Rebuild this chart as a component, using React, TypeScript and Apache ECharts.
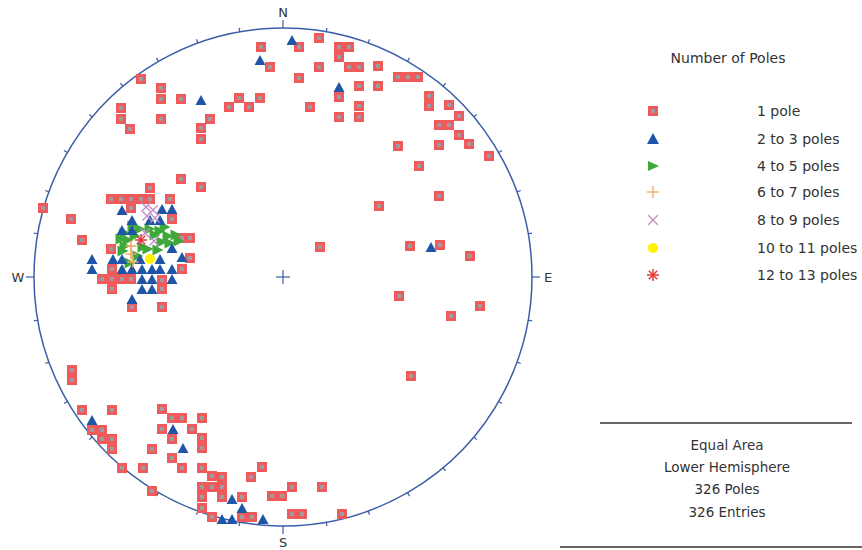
import React, { useEffect, useRef } from 'react';
import * as echarts from 'echarts';

// Projection units: net radius = R, x toward East, y toward North
const R = 249;

const onePole: number[][] = [
  // north / north-east
  [36, 239], [16, 230], [56, 230], [66, 230], [56, 220], [36, 210], [66, 210], [76, 210], [95, 211],
  [16, 199], [115, 200], [125, 200], [135, 200], [56, 180], [76, 191], [95, 191], [27, 170], [76, 171],
  [76, 160], [56, 160], [146, 181], [146, 171], [166, 172], [176, 161], [156, 152], [166, 152], [176, 142],
  [186, 133], [115, 131], [156, 132], [206, 121], [136, 111],
  // east
  [156, 81], [96, 71], [37, 30], [127, 31], [157, 32], [187, 21], [116, -19], [197, -29], [168, -39], [128, -99],
  // north-west
  [-22, 230], [-13, 210], [-142, 198], [-122, 189], [-122, 178], [-102, 178], [-162, 169], [-162, 158],
  [-153, 148], [-122, 158], [-73, 158], [-82, 149], [-82, 138], [-54, 170], [-44, 179], [-34, 170], [-23, 179],
  // west cluster
  [-240, 69], [-102, 98], [-82, 90], [-133, 89], [-172, 78], [-162, 78], [-152, 78], [-142, 78], [-133, 78],
  [-113, 78], [-152, 69], [-212, 58], [-111, 58], [-101, 39], [-93, 39], [-201, 37], [-172, 28], [-93, 19],
  [-101, 8], [-171, 8], [-181, -2], [-171, -2], [-161, -2], [-152, -2], [-121, -3], [-171, -12], [-121, -12],
  [-151, -30], [-121, -30],
  // south-west
  [-211, -93], [-211, -103], [-201, -133], [-171, -133], [-191, -153], [-181, -153], [-181, -162], [-171, -162],
  [-171, -172], [-121, -132], [-111, -141], [-101, -141], [-81, -141], [-121, -152], [-111, -162], [-91, -152],
  [-81, -161], [-81, -171], [-131, -172], [-111, -181], [-161, -191], [-140, -191], [-101, -191], [-81, -191],
  [-71, -199], [-131, -214],
  // south
  [-21, -190], [-61, -200], [-32, -200], [-81, -210], [-71, -210], [-61, -210], [-81, -220], [-61, -220],
  [-41, -220], [-11, -219], [-1, -219], [9, -210], [39, -210], [-81, -231], [-71, -240], [-41, -240],
  [-31, -240], [9, -237], [19, -237], [59, -237],
];

const twoToThree: number[][] = [
  [9, 237], [-23, 217], [56, 190], [-82, 177], [148, 30],
  [-161, 67], [-121, 68], [-111, 68], [-151, 57], [-133, 57], [-123, 57], [-161, 47], [-151, 47], [-111, 29],
  [-191, 18], [-191, 8], [-170, 18], [-161, 18], [-143, 18], [-123, 18], [-101, 20], [-161, 8], [-151, 8],
  [-141, 8], [-131, 8], [-123, 8], [-111, 8], [-141, -2], [-131, -2], [-111, -2], [-141, -12], [-131, -12],
  [-151, -22],
  [-191, -143], [-110, -152], [-100, -171],
  [-51, -222], [-41, -231], [-61, -242], [-51, -242], [-20, -242],
];

const fourToFive: number[][] = [
  [-158, 44], [-155, 37], [-158, 31], [-143, 48], [-133, 48], [-123, 46], [-115, 41], [-107, 42],
  [-121, 35], [-113, 34], [-135, 28], [-125, 27], [-145, 21], [-148, 41], [-153, 14],
  [-162, 38], [-150, 51], [-118, 50], [-104, 36], [-140, 30], [-128, 42], [-160, 26],
];

const sixToSeven: number[][] = [[-152, 31], [-152, 23], [-150, 15]];

const eightToNine: number[][] = [[-138, 44], [-129, 36], [-137, 70], [-130, 67], [-136, 61], [-128, 59]];

const tenToEleven: number[][] = [[-133, 18]];

const twelveToThirteen: number[][] = [[-142, 37]];

const legendTitle = 'Number of Poles';
const legendLabels = ['1 pole', '2 to 3 poles', '4 to 5 poles', '6 to 7 poles', '8 to 9 poles', '10 to 11 poles', '12 to 13 poles'];
const infoLines = ['Equal Area', 'Lower Hemisphere', '326 Poles', '326 Entries'];
const cardinals = ['N', 'E', 'S', 'W'];

const BLUE_NET = '#3b5ea8';
const RED = '#ef5b5b';
const RED_CORE = '#a09aa2';
const TRI_BLUE = '#1f55a6';
const GREEN = '#3ea83a';
const ORANGE = '#f2a85a';
const PURPLE = '#c48cc4';
const YELLOW = '#fff200';
const STAR_RED = '#e23a3a';
const FONT = 'DejaVu Sans';

const PLUS_PATH = 'path://M4.3,0H5.7V10H4.3Z M0,4.3H10V5.7H0Z';
const X_PATH = 'path://M0.9,0L5,4.1L9.1,0L10,0.9L5.9,5L10,9.1L9.1,10L5,5.9L0.9,10L0,9.1L4.1,5L0,0.9Z';
const STAR_PATH = 'path://M4.4,0H5.6V10H4.4Z M0,4.4H10V5.6H0Z M1.05,1.9L1.9,1.05L8.95,8.1L8.1,8.95Z M8.1,1.05L8.95,1.9L1.9,8.95L1.05,8.1Z';
const RTRI_PATH = 'path://M0,0L10,5L0,10Z';

function buildOption() {
  const frame = {
    type: 'custom',
    silent: true,
    z: 1,
    data: [[0, 0]],
    renderItem: (_params: any, api: any) => {
      const c = api.coord([0, 0]);
      const r = api.size([R, 0])[0];
      const children: any[] = [];
      children.push({
        type: 'circle',
        shape: { cx: c[0], cy: c[1], r },
        style: { fill: 'none', stroke: BLUE_NET, lineWidth: 1.5 },
      });
      for (let a = 0; a < 360; a += 10) {
        const card = a % 90 === 0;
        const len = card ? 8 : 4;
        const rad = (a * Math.PI) / 180;
        const sx = Math.sin(rad);
        const sy = -Math.cos(rad);
        children.push({
          type: 'line',
          shape: { x1: c[0] + sx * r, y1: c[1] + sy * r, x2: c[0] + sx * (r + len), y2: c[1] + sy * (r + len) },
          style: { stroke: BLUE_NET, lineWidth: 1.2 },
        });
      }
      cardinals.forEach((t, i) => {
        const rad = (i * 90 * Math.PI) / 180;
        const off = r + 16;
        children.push({
          type: 'text',
          x: c[0] + Math.sin(rad) * off,
          y: c[1] - Math.cos(rad) * off,
          style: {
            text: t,
            fill: '#333',
            font: `13px "${FONT}"`,
            align: 'center',
            verticalAlign: 'middle',
          },
        });
      });
      children.push({
        type: 'line',
        shape: { x1: c[0] - 7, y1: c[1], x2: c[0] + 7, y2: c[1] },
        style: { stroke: BLUE_NET, lineWidth: 1.2 },
      });
      children.push({
        type: 'line',
        shape: { x1: c[0], y1: c[1] - 7, x2: c[0], y2: c[1] + 7 },
        style: { stroke: BLUE_NET, lineWidth: 1.2 },
      });
      return { type: 'group', children };
    },
  };

  const legendX = 653;
  const rowY = [111, 139, 166, 192, 220, 248, 275];
  const graphics: any[] = [];
  graphics.push({
    type: 'text',
    x: 728,
    y: 58,
    style: { text: legendTitle, fill: '#333', font: `14px "${FONT}"`, align: 'center', verticalAlign: 'middle' },
  });
  legendLabels.forEach((t, i) => {
    graphics.push({
      type: 'text',
      x: 757,
      y: rowY[i],
      style: { text: t, fill: '#333', font: `14px "${FONT}"`, align: 'left', verticalAlign: 'middle' },
    });
  });
  // legend icons
  graphics.push({
    type: 'rect',
    shape: { x: legendX - 3.5, y: rowY[0] - 3.5, width: 7, height: 7 },
    style: { fill: RED_CORE, stroke: RED, lineWidth: 3 },
  });
  graphics.push({
    type: 'polygon',
    shape: { points: [[legendX, rowY[1] - 6], [legendX + 6, rowY[1] + 5], [legendX - 6, rowY[1] + 5]] },
    style: { fill: TRI_BLUE },
  });
  graphics.push({
    type: 'polygon',
    shape: { points: [[legendX - 5, rowY[2] - 5], [legendX + 6, rowY[2]], [legendX - 5, rowY[2] + 5]] },
    style: { fill: GREEN },
  });
  graphics.push({
    type: 'line',
    shape: { x1: legendX, y1: rowY[3] - 6, x2: legendX, y2: rowY[3] + 6 },
    style: { stroke: ORANGE, lineWidth: 1.3 },
  });
  graphics.push({
    type: 'line',
    shape: { x1: legendX - 6, y1: rowY[3], x2: legendX + 6, y2: rowY[3] },
    style: { stroke: ORANGE, lineWidth: 1.3 },
  });
  graphics.push({
    type: 'line',
    shape: { x1: legendX - 5, y1: rowY[4] - 5, x2: legendX + 5, y2: rowY[4] + 5 },
    style: { stroke: PURPLE, lineWidth: 1.2 },
  });
  graphics.push({
    type: 'line',
    shape: { x1: legendX - 5, y1: rowY[4] + 5, x2: legendX + 5, y2: rowY[4] - 5 },
    style: { stroke: PURPLE, lineWidth: 1.2 },
  });
  graphics.push({
    type: 'circle',
    shape: { cx: legendX, cy: rowY[5], r: 5 },
    style: { fill: YELLOW },
  });
  [0, 45, 90, 135].forEach((deg) => {
    const rad = (deg * Math.PI) / 180;
    graphics.push({
      type: 'line',
      shape: {
        x1: legendX - Math.cos(rad) * 6,
        y1: rowY[6] - Math.sin(rad) * 6,
        x2: legendX + Math.cos(rad) * 6,
        y2: rowY[6] + Math.sin(rad) * 6,
      },
      style: { stroke: STAR_RED, lineWidth: 1.5 },
    });
  });
  // info block
  graphics.push({
    type: 'line',
    shape: { x1: 600, y1: 423, x2: 852, y2: 423 },
    style: { stroke: '#333', lineWidth: 1.5 },
  });
  const infoY = [445, 467, 489, 512];
  infoLines.forEach((t, i) => {
    graphics.push({
      type: 'text',
      x: 727,
      y: infoY[i],
      style: { text: t, fill: '#333', font: `13.5px "${FONT}"`, align: 'center', verticalAlign: 'middle' },
    });
  });
  graphics.push({
    type: 'line',
    shape: { x1: 560, y1: 547, x2: 862, y2: 547 },
    style: { stroke: '#666', lineWidth: 2 },
  });

  return {
    animation: false,
    backgroundColor: '#ffffff',
    grid: { left: 34, top: 28, width: 2 * R, height: 2 * R },
    xAxis: { type: 'value', min: -R, max: R, show: false },
    yAxis: { type: 'value', min: -R, max: R, show: false },
    graphic: graphics,
    series: [
      frame,
      {
        name: legendLabels[0],
        type: 'scatter',
        z: 2,
        symbol: 'rect',
        symbolSize: 7,
        itemStyle: { color: RED_CORE, borderColor: RED, borderWidth: 3, opacity: 1 },
        data: onePole,
      },
      {
        name: legendLabels[2],
        type: 'scatter',
        z: 3,
        symbol: RTRI_PATH,
        symbolSize: 11,
        itemStyle: { color: GREEN, opacity: 1 },
        data: fourToFive,
      },
      {
        name: legendLabels[1],
        type: 'scatter',
        z: 4,
        symbol: 'triangle',
        symbolSize: [11, 10],
        itemStyle: { color: TRI_BLUE, opacity: 1 },
        data: twoToThree,
      },
      {
        name: legendLabels[4],
        type: 'scatter',
        z: 5,
        symbol: X_PATH,
        symbolSize: 10,
        itemStyle: { color: PURPLE, opacity: 1 },
        data: eightToNine,
      },
      {
        name: legendLabels[3],
        type: 'scatter',
        z: 6,
        symbol: PLUS_PATH,
        symbolSize: 11,
        itemStyle: { color: ORANGE, opacity: 1 },
        data: sixToSeven,
      },
      {
        name: legendLabels[5],
        type: 'scatter',
        z: 7,
        symbol: 'circle',
        symbolSize: 10,
        itemStyle: { color: YELLOW, opacity: 1 },
        data: tenToEleven,
      },
      {
        name: legendLabels[6],
        type: 'scatter',
        z: 8,
        symbol: STAR_PATH,
        symbolSize: 12,
        itemStyle: { color: STAR_RED, opacity: 1 },
        data: twelveToThirteen,
      },
    ],
  };
}

export default function App() {
  const ref = useRef<HTMLDivElement>(null);
  useEffect(() => {
    if (!ref.current) return;
    const chart = echarts.init(ref.current, undefined, { renderer: 'svg' });
    chart.setOption(buildOption() as any);
    return () => {
      chart.dispose();
    };
  }, []);
  return (
    <div
      ref={ref}
      style={{ position: 'fixed', left: 0, top: 0, width: 862, height: 550, background: '#ffffff' }}
    />
  );
}
